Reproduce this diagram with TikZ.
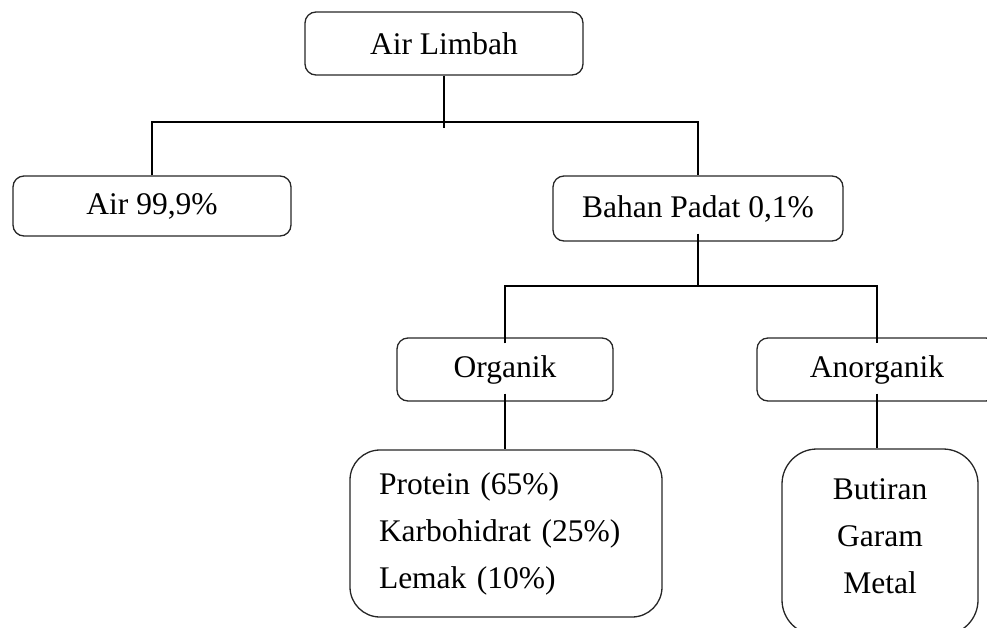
\documentclass[tikz,border=0pt]{standalone}
\usepackage{fontspec}
\setmainfont{Liberation Serif}
\begin{document}
\begin{tikzpicture}[x=1pt,y=-1pt,
  txt/.style={font=\fontsize{31.5}{47}\selectfont},
  box/.style={draw=black!85, line width=1.3pt, rounded corners=11pt, inner sep=0pt, txt},
  conn/.style={line width=2.2pt, black}]
\useasboundingbox (0,0) rectangle (987,627);
\clip (0,0) rectangle (987,627);
\node[box, minimum width=278pt, minimum height=63pt] (top) at (444,43.5) {Air Limbah};
\node[box, minimum width=278pt, minimum height=60pt] (air) at (152,206) {Air 99,9\%};
\node[box, minimum width=290pt, minimum height=65pt] (bahan) at (698,208.5) {Bahan Padat 0,1\%};
\node[box, minimum width=216pt, minimum height=63pt] (org) at (505,369.5) {Organik};
\node[box, minimum width=240pt, minimum height=63pt] (anorg) at (877,369.5) {Anorganik};
\node[box, rounded corners=30pt, minimum width=312pt, minimum height=167pt,
  text width=254pt, inner xsep=29pt, align=left] (prot) at (506,533.5)
  {Protein (65\%)\\Karbohidrat (25\%)\\Lemak (10\%)};
\node[box, rounded corners=35pt, minimum width=196pt, minimum height=186pt,
  label={[txt, align=center, yshift=6pt]center:{Butiran\\Garam\\Metal}}] (but) at (880,542) {};
\coordinate (j0) at (444,122);
\coordinate (tick) at (444,128);
\coordinate (j1) at (698,286);
\draw[conn] (top.south) -- (tick);
\draw[conn] (air.north) -- (air.north |- j0) -- (bahan.north |- j0) -- (bahan.north);
\draw[conn] ([yshift=8pt]bahan.south) -- (j1);
\draw[conn] ([yshift=-6pt]org.north) -- (org.north |- j1) -- (anorg.north |- j1) -- ([yshift=-6pt]anorg.north);
\draw[conn] ([yshift=8pt]org.south) -- (org.south |- prot.north);
\draw[conn] ([yshift=8pt]anorg.south) -- (anorg.south |- but.north);
\end{tikzpicture}
\end{document}
